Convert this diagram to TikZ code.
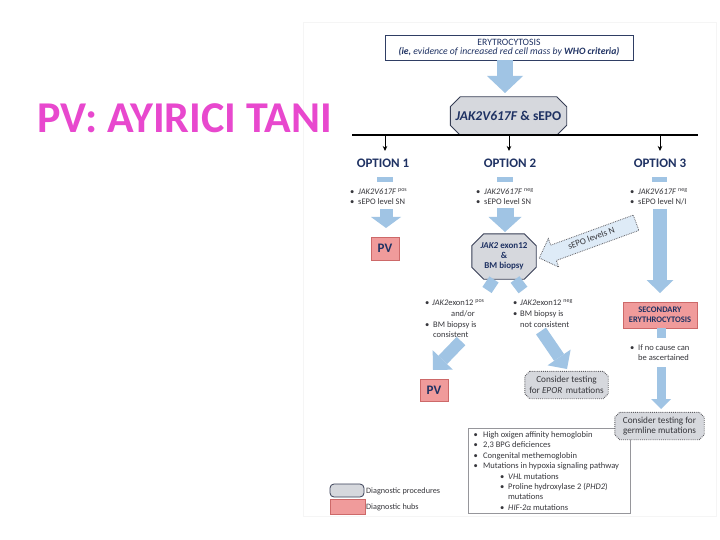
\documentclass[tikz,border=0pt]{standalone}
\usepackage{fontspec}
\setmainfont{Carlito}
\usetikzlibrary{arrows.meta,shapes.arrows,backgrounds}

\definecolor{navy}{RGB}{31,50,99}
\definecolor{navyedge}{RGB}{47,62,100}
\definecolor{ablue}{RGB}{160,196,228}
\definecolor{lblue}{RGB}{222,235,247}
\definecolor{gfill}{RGB}{214,216,221}
\definecolor{octedge}{RGB}{55,62,85}
\definecolor{procedge}{RGB}{95,95,100}
\definecolor{pfill}{RGB}{240,155,155}
\definecolor{pedge}{RGB}{205,105,105}
\definecolor{titlemag}{RGB}{232,72,206}
\definecolor{txtgray}{RGB}{55,55,60}
\definecolor{boxgray}{RGB}{150,150,155}

\newcommand{\chamferbox}[3]{%
  \begin{scope}[on background layer]
  \path[#1] ([xshift=#3]#2.north west) -- ([xshift=-#3]#2.north east)
    -- ([yshift=-#3]#2.north east) -- ([yshift=#3]#2.south east)
    -- ([xshift=-#3]#2.south east) -- ([xshift=#3]#2.south west)
    -- ([yshift=#3]#2.south west) -- ([yshift=-#3]#2.north west) -- cycle;
  \end{scope}}

\tikzset{
  bigarr/.style n args={3}{draw=ablue, line width=#1, -{Triangle[width=#2,length=#3,line width=0pt]}},
  tx/.style={font=\fontsize{8.5}{10}\selectfont, inner sep=0pt, anchor=west, text height=6pt, text depth=1.5pt, text=txtgray},
  optlbl/.style={font=\fontsize{13}{13}\selectfont\bfseries, text=navy, inner sep=0pt},
  hub/.style={draw=pedge, line width=0.6pt, fill=pfill, inner sep=0pt, align=center, text=navy},
  octline/.style={draw=octedge, line width=0.9pt, fill=gfill},
  procline/.style={draw=procedge, densely dotted, line width=0.9pt, fill=gfill},
  boxtext/.style={inner sep=0pt, align=center, text=txtgray, font=\fontsize{9.2}{10.5}\selectfont},
  droparr/.style={line width=0.8pt, -{Stealth[length=5pt,width=4.5pt]}},
}

\begin{document}
\begin{tikzpicture}[x=1pt,y=-1pt]
\useasboundingbox (0,0) rectangle (720,540);
\begin{scope}[on background layer]
\fill[white] (0,0) rectangle (720,540);
\draw[black!4, line width=0.8pt] (303,22) rectangle (716,516);
\end{scope}

% title
\node[anchor=base west, inner sep=0pt, font=\fontsize{44}{44}\selectfont\bfseries, text=titlemag] (title) at (37,133) {PV: AYIRICI TANI};

% top box
\node[draw=navyedge, line width=0.8pt, minimum width=248pt, minimum height=25pt, inner sep=0pt, align=center, text=navy, font=\fontsize{9.7}{9.2}\selectfont] (ery) at (509,47.5) {ERYTROCYTOSIS\\\textit{\textbf{(ie,} evidence of increased red cell mass by \textbf{WHO criteria)}}};
\coordinate (a0s) at (505,60.4);
\coordinate (a0e) at (505,93);
\draw[bigarr={16pt}{36pt}{17pt}] (a0s) -- (a0e);

% JAK2V617F octagon
\node[inner sep=0pt, minimum width=116pt, minimum height=38pt, font=\fontsize{13.5}{13.5}\selectfont\bfseries, text=navy] (jak) at (508.5,116) {\textit{JAK2V617F} \& sEPO};
\chamferbox{octline}{jak}{10pt}

% horizontal line and drops
\coordinate (hl) at (352,135);
\coordinate (hr) at (698,135);
\draw[line width=1.3pt] (hl) -- (hr);
\foreach \i/\x in {1/385,2/509,3/660}{
  \coordinate (dt\i) at (\x,135);
  \coordinate (db\i) at (\x,151);
  \draw[droparr] (dt\i) -- (db\i);
}

% options
\node[optlbl] (opt1) at (383,163) {OPTION 1};
\node[optlbl] (opt2) at (510,163) {OPTION 2};
\node[optlbl] (opt3) at (660,163) {OPTION 3};

\fill[ablue] (377,177) rectangle (393,182);
\fill[ablue] (497,177) rectangle (513,182);
\fill[ablue] (652,177) rectangle (667,182);

\node[tx] (o1b1) at (350,192) {•};
\node[tx] (o1t1) at (358,192) {\textit{JAK2V617F} \textsuperscript{pos}};
\node[tx] (o1b2) at (350,202.5) {•};
\node[tx] (o1t2) at (358,202.5) {sEPO level SN};

\node[tx] (o2b1) at (476,192) {•};
\node[tx] (o2t1) at (484,192) {\textit{JAK2V617F} \textsuperscript{neg}};
\node[tx] (o2b2) at (476,202.5) {•};
\node[tx] (o2t2) at (484,202.5) {sEPO level SN};

\node[tx] (o3b1) at (630,192) {•};
\node[tx] (o3t1) at (638,192) {\textit{JAK2V617F} \textsuperscript{neg}};
\node[tx] (o3b2) at (630,202.5) {•};
\node[tx] (o3t2) at (638,202.5) {sEPO level N/I};

% option arrows
\coordinate (a1s) at (386,209);
\coordinate (a1e) at (386,228);
\draw[bigarr={13pt}{30pt}{11pt}] (a1s) -- (a1e);
\coordinate (a2s) at (505,208);
\coordinate (a2e) at (505,232);
\draw[bigarr={17pt}{33pt}{15pt}] (a2s) -- (a2e);
\coordinate (a3s) at (660,209);
\coordinate (a3e) at (660,293);
\draw[bigarr={14pt}{27pt}{13pt}] (a3s) -- (a3e);

% PV option 1
\node[hub, minimum width=28pt, minimum height=23pt, font=\fontsize{13}{13}\selectfont\bfseries] (pv1) at (385,248.5) {PV};

% exon12 octagon
\node[inner sep=0pt, minimum width=64pt, minimum height=45pt, align=center, text=navy, font=\fontsize{9}{10.2}\selectfont\bfseries] (exon) at (504,256.5) {\textit{JAK2} exon12\\\&\\BM biopsy};
\chamferbox{octline}{exon}{12pt}

% stubs below exon octagon
\coordinate (s1a) at (494,279.5);
\coordinate (s1b) at (487,290);
\draw[ablue, line width=11pt] (s1a) -- (s1b);
\coordinate (s2a) at (515,279.5);
\coordinate (s2b) at (523,290);
\draw[ablue, line width=11pt] (s2a) -- (s2b);

% sEPO levels N arrow
\node[single arrow, shape border rotate=180, rotate=20, draw=procedge, densely dotted, line width=0.8pt, fill=lblue, minimum height=103pt, inner xsep=2pt, inner ysep=4pt, single arrow head extend=7pt, single arrow tip angle=90, font=\fontsize{9}{10}\selectfont, text=txtgray, text height=6pt, text depth=1.5pt] (sepo) at (591.5,239) {sEPO levels N};

% middle texts
\node[tx] (mlb1) at (425,303) {•};
\node[tx] (mlt1) at (432,303) {\textit{JAK2}exon12 \textsuperscript{pos}};
\node[tx] (mlt2) at (451,314) {and/or};
\node[tx] (mlb3) at (425,325) {•};
\node[tx] (mlt3) at (433,325) {BM biopsy is};
\node[tx] (mlt4) at (433,335.5) {consistent};

\node[tx] (mrb1) at (513,303) {•};
\node[tx] (mrt1) at (520,303) {\textit{JAK2}exon12 \textsuperscript{neg}};
\node[tx] (mrb2) at (513,314) {•};
\node[tx] (mrt2) at (520,314) {BM biopsy is};
\node[tx] (mrt3) at (520,325) {not consistent};

% lower diagonal arrows
\coordinate (a4s) at (461,341);
\coordinate (a4e) at (433,370);
\draw[bigarr={12pt}{28pt}{14pt}] (a4s) -- (a4e);
\coordinate (a5s) at (541,331);
\coordinate (a5e) at (567,369);
\draw[bigarr={12pt}{28pt}{14pt}] (a5s) -- (a5e);

\node[hub, minimum width=28pt, minimum height=22pt, font=\fontsize{13}{13}\selectfont\bfseries] (pv2) at (434,390) {PV};

\node[boxtext, minimum width=83pt, minimum height=27pt] (epor) at (566.5,385) {Consider testing\\for \textit{EPOR}\, mutations};
\chamferbox{procline}{epor}{5pt}

% secondary erythrocytosis
\node[hub, minimum width=74pt, minimum height=26pt, font=\fontsize{8.5}{10}\selectfont\bfseries] (sec) at (660,315) {SECONDARY\\ERYTHROCYTOSIS};
\fill[ablue] (657,328) rectangle (666,338);
\node[tx] (sb1) at (630,348) {•};
\node[tx] (st1) at (638,348) {If no cause can};
\node[tx] (st2) at (638,358.5) {be ascertained};
\coordinate (a6s) at (661,367);
\coordinate (a6e) at (661,409);
\draw[bigarr={9pt}{20pt}{10pt}] (a6s) -- (a6e);

% list box
\begin{scope}[on background layer]
\node[draw=boxgray, line width=0.7pt, fill=white, minimum width=162pt, minimum height=85pt, inner sep=0pt] (lst) at (549,470.5) {};
\end{scope}

% germline box
\node[boxtext, minimum width=89pt, minimum height=27pt] (germ) at (659.5,426) {Consider testing for\\germline mutations};
\chamferbox{procline}{germ}{5pt}

% list items
\node[tx] (l1b) at (473.5,435) {•};
\node[tx] (l1t) at (483,435) {High oxigen affinity hemoglobin};
\node[tx] (l2b) at (473.5,445.5) {•};
\node[tx] (l2t) at (483,445.5) {2,3 BPG deficiences};
\node[tx] (l3b) at (473.5,456) {•};
\node[tx] (l3t) at (483,456) {Congenital methemoglobin};
\node[tx] (l4b) at (473.5,466) {•};
\node[tx] (l4t) at (483,466) {Mutations in hypoxia signaling pathway};
\node[tx] (l5b) at (500,477) {•};
\node[tx] (l5t) at (508,477) {\textit{VHL} mutations};
\node[tx] (l6b) at (500,487) {•};
\node[tx] (l6t) at (508,487) {Proline hydroxylase 2 (\textit{PHD2})};
\node[tx] (l7t) at (508,497.5) {mutations};
\node[tx] (l8b) at (500,508) {•};
\node[tx] (l8t) at (508,508) {\textit{HIF-2α} mutations};

% legend
\node[draw=octedge, line width=0.8pt, fill=gfill, rounded corners=4pt, minimum width=34pt, minimum height=13pt, inner sep=0pt] (lg1) at (347,490.5) {};
\node[tx, font=\fontsize{8.2}{10}\selectfont] (lg1t) at (366,491) {Diagnostic procedures};
\node[draw=pedge, line width=0.6pt, fill=pfill, minimum width=35pt, minimum height=15pt, inner sep=0pt] (lg2) at (347.5,506.5) {};
\node[tx, font=\fontsize{8.2}{10}\selectfont] (lg2t) at (366,507) {Diagnostic hubs};
\end{tikzpicture}
\end{document}
